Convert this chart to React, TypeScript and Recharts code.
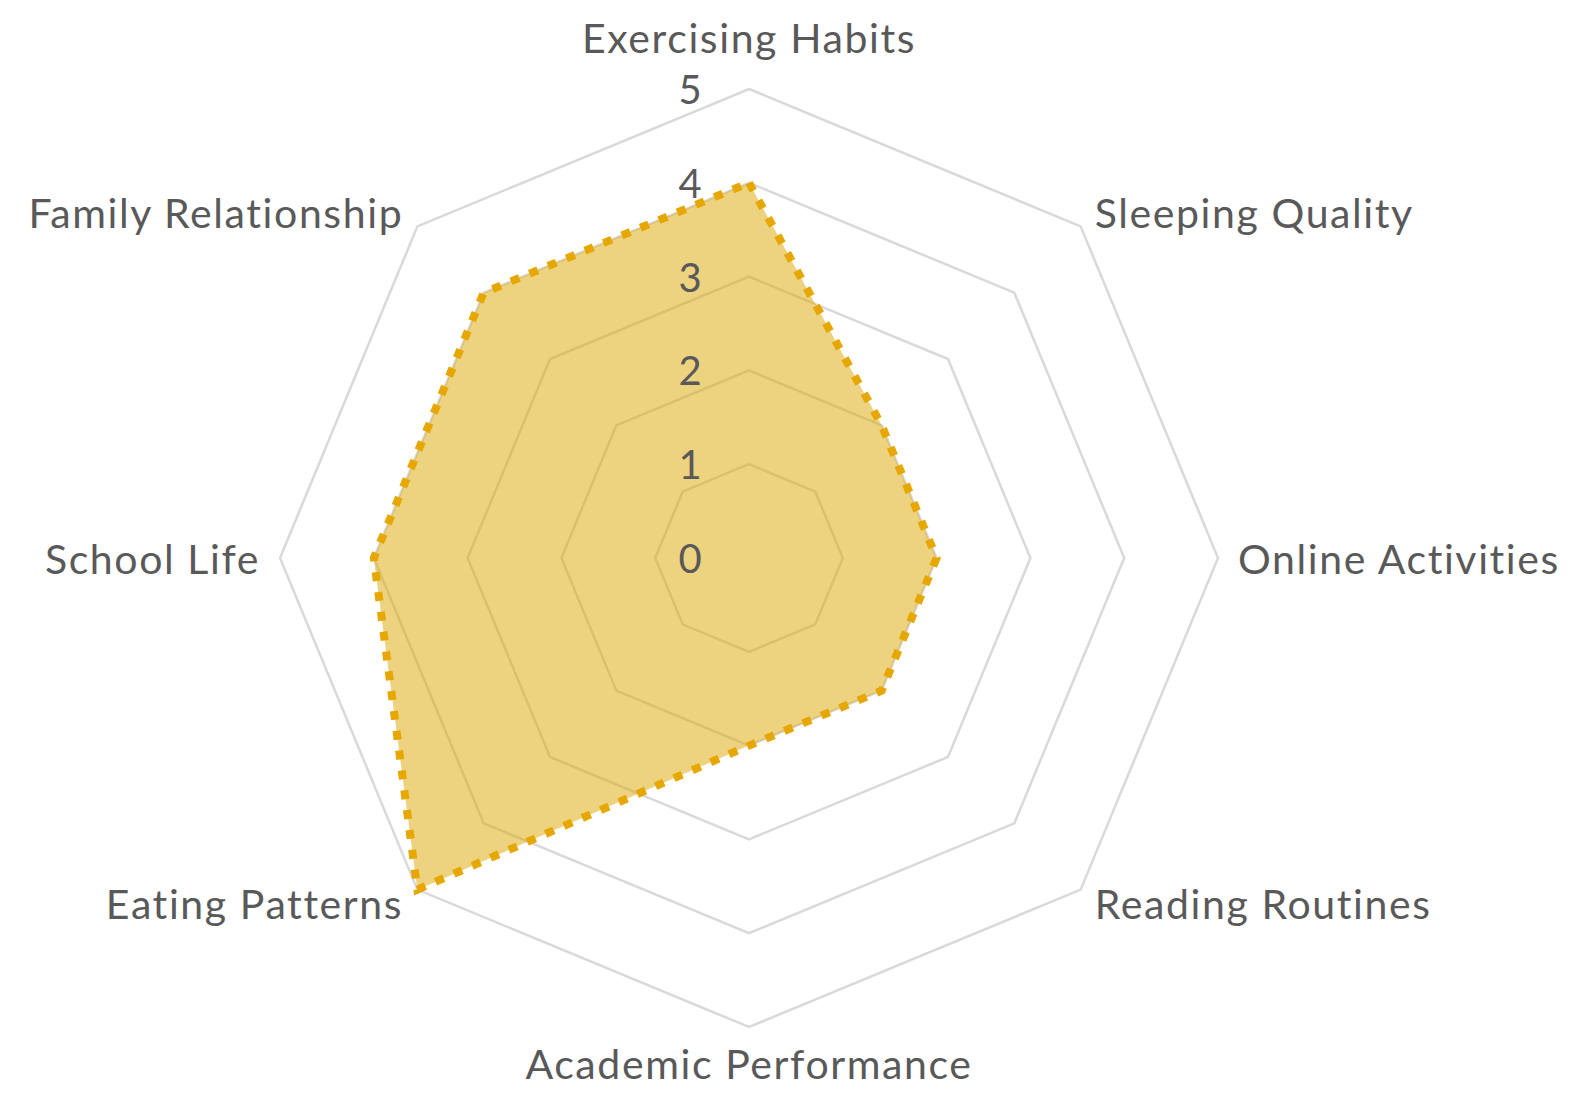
import { RadarChart, Radar, PolarGrid, PolarAngleAxis, PolarRadiusAxis } from "recharts"

const categories = [
  "Exercising Habits",
  "Sleeping Quality",
  "Online Activities",
  "Reading Routines",
  "Academic Performance",
  "Eating Patterns",
  "School Life",
  "Family Relationship",
]
const scores = [4, 2, 2, 2, 2, 5, 4, 4]
const radiusTicks = [0, 1, 2, 3, 4, 5]

const data = categories.map((name, i) => ({ name, score: scores[i] }))

const CX = 741
const CY = 550
const R = 469
const FONT = "Lato, 'Open Sans', sans-serif"
const TEXT = "#595959"

function AngleTick(props: any) {
  const { payload } = props
  const rad = (-payload.coordinate * Math.PI) / 180
  const cos = Math.cos(rad)
  const sin = Math.sin(rad)
  let x = CX + (R + 20) * cos
  let y = CY + (R + 20) * sin
  let anchor: "start" | "middle" | "end" = "middle"
  let baseline: "central" | "alphabetic" = "central"
  if (cos > 0.3) anchor = "start"
  else if (cos < -0.3) anchor = "end"
  if (sin < -0.9) y -= 32
  if (sin > 0.9) {
    // bottom label sits on its baseline, close to the page edge
    y = CY + R + 52
    baseline = "alphabetic"
  }
  return (
    <text x={x} y={y} textAnchor={anchor} dominantBaseline={baseline} fill={TEXT} fontSize={41} letterSpacing={1.6} fontFamily={FONT}>
      {payload.value}
    </text>
  )
}

function RadiusTick(props: any) {
  const { y, payload } = props
  return (
    <text x={CX - 59} y={y} textAnchor="middle" dominantBaseline="central" fill={TEXT} fontSize={40} fontFamily={FONT}>
      {payload.value}
    </text>
  )
}

export default function App() {
  return (
    <div style={{ width: 1567, height: 1088, background: "#fff" }}>
      <RadarChart width={1567} height={1088} data={data} cx={CX} cy={CY} outerRadius={R} margin={{ top: 0, right: 0, bottom: 0, left: 0 }}>
        <PolarGrid gridType="polygon" radialLines={false} stroke="#D9D9D9" strokeWidth={2.5} />
        <PolarAngleAxis dataKey="name" tick={AngleTick} tickLine={false} axisLine={false} />
        <PolarRadiusAxis
          angle={90}
          domain={[0, 5]}
          ticks={radiusTicks as any}
          tickCount={6}
          tick={RadiusTick}
          axisLine={false}
          tickLine={false}
        />
        <Radar
          dataKey="score"
          fill="#DCA600"
          fillOpacity={0.5}
          stroke="#E6A800"
          strokeWidth={8}
          strokeDasharray="9 11"
          isAnimationActive={false}
        />
      </RadarChart>
    </div>
  )
}
